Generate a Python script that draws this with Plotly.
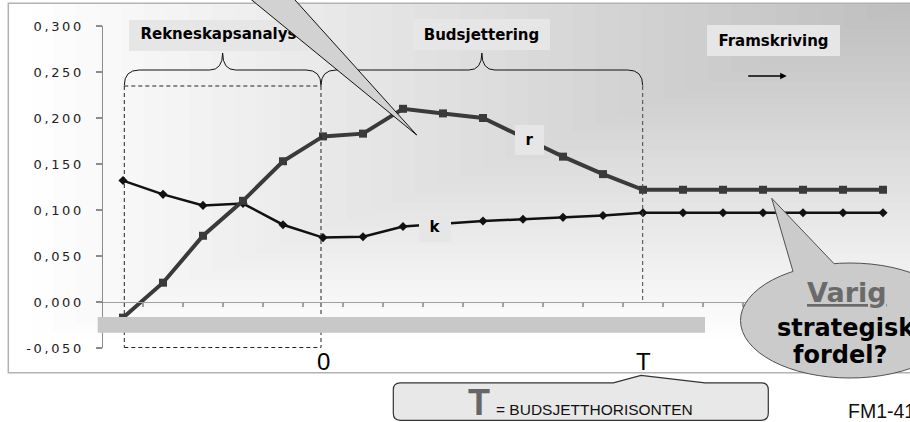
import math
import plotly.graph_objects as go

# ---------------- data ----------------
periods = list(range(20))
r_values = [-0.017, 0.021, 0.072, 0.110, 0.153, 0.180, 0.183, 0.210, 0.205, 0.200,
            0.179, 0.158, 0.139, 0.122, 0.122, 0.122, 0.122, 0.122, 0.122, 0.122]
k_values = [0.132, 0.117, 0.105, 0.107, 0.084, 0.070, 0.071, 0.082, 0.085, 0.088,
            0.090, 0.092, 0.094, 0.097, 0.097, 0.097, 0.097, 0.097, 0.097, 0.097]
y_tick_values = [-0.05, 0.0, 0.05, 0.10, 0.15, 0.20, 0.25, 0.30]
y_tick_labels = ["-0,050", "0,000", "0,050", "0,100", "0,150", "0,200", "0,250", "0,300"]
phase_labels = ["Rekneskapsanalyse", "Budsjettering", "Framskriving"]
mark_labels = ["0", "T"]
mark_periods = [5, 13]

# ---------------- geometry ----------------
W, H = 910, 422
ML, MR, MT, MB = 103, 7, 26, 74
PW, PH = W - ML - MR, H - MT - MB
YMIN, YMAX = -0.05, 0.30
XMIN, XMAX = -0.5, 19.5


def PX(x):
    return (x - ML) / PW


def PY(y):
    return (MT + PH - y) / PH


def DX(x):
    return XMIN + (x - ML) / PW * (XMAX - XMIN)


def DY(y):
    return YMAX - (y - MT) / PH * (YMAX - YMIN)


def path(points, close=True):
    s = ""
    for i, p in enumerate(points):
        if p[0] == "Q":
            s += " Q {:.5f},{:.5f} {:.5f},{:.5f}".format(PX(p[1]), PY(p[2]), PX(p[3]), PY(p[4]))
        else:
            s += ("M" if i == 0 else " L") + " {:.5f},{:.5f}".format(PX(p[0]), PY(p[1]))
    return s + (" Z" if close else "")


shapes = []

# gradient background (from top-right corner)
N = 40
for i in range(N):
    t_hi = 1 - i / N
    t_lo = 1 - (i + 1) / N
    tm = (t_hi + t_lo) / 2
    g = int(round(min(255, 190 + 66 * tm)))
    if g >= 255:
        continue
    x0 = max(8.5, 912 - t_hi * 904)
    y1 = 3.5 + t_hi * 345
    shapes.append(dict(type="rect", xref="paper", yref="paper", layer="below",
                       x0=PX(x0), x1=PX(920), y0=PY(3.5), y1=PY(y1),
                       fillcolor="rgb({0},{0},{0})".format(g), line=dict(width=0)))

# chart border
shapes.append(dict(type="rect", xref="paper", yref="paper", layer="below",
                   x0=PX(8.3), x1=PX(930), y0=PY(3.3), y1=PY(372.7),
                   fillcolor="rgba(0,0,0,0)", line=dict(color="#b2b2b2", width=1.5)))

# box behind "Rekneskapsanalyse" (under the wedge)
shapes.append(dict(type="rect", xref="paper", yref="paper", layer="below",
                   x0=PX(129), x1=PX(318), y0=PY(20), y1=PY(51),
                   fillcolor="#e6e6e6", line=dict(width=0)))


def brace(xa, xb):
    xm = (xa + xb) / 2
    return path([(xa, 85.5), ("Q", xa, 70, xa + 15, 70), (xm - 13, 70),
                 ("Q", xm, 70, xm, 53), ("Q", xm, 70, xm + 13, 70),
                 (xb - 15, 70), ("Q", xb, 70, xb, 85.5)], close=False)


for xa, xb in [(124.3, 321), (321, 642.7)]:
    shapes.append(dict(type="path", xref="paper", yref="paper", path=brace(xa, xb),
                       fillcolor="rgba(0,0,0,0)", line=dict(color="#111111", width=1)))

# dashed frames
dash_style = "4px,3px"
for (xa, ya, xb, yb) in [(124.3, 86, 321, 86), (124.3, 86, 124.3, 347.5),
                         (124.3, 347.5, 321, 347.5), (321, 86, 321, 347.5)]:
    shapes.append(dict(type="line", xref="paper", yref="paper",
                       x0=PX(xa), y0=PY(ya), x1=PX(xb), y1=PY(yb),
                       line=dict(color="#222222", width=1, dash=dash_style)))
shapes.append(dict(type="line", xref="paper", yref="paper",
                   x0=PX(642.7), y0=PY(86), x1=PX(642.7), y1=PY(301),
                   line=dict(color="#444444", width=1, dash=dash_style)))

# grey bar under axis
shapes.append(dict(type="rect", xref="paper", yref="paper",
                   x0=PX(97.7), x1=PX(705), y0=PY(317), y1=PY(332.7),
                   fillcolor="#c8c8c8", line=dict(width=0)))

# wedge of callout at top
shapes.append(dict(type="path", xref="paper", yref="paper",
                   path=path([(245.6, -5), (290.5, -5), (416.7, 135)]),
                   fillcolor="#d2d2d2", line=dict(color="#111111", width=1)))

# ellipse callout
cx, cy, rx, ry = 850.0, 320.5, 109.5, 57.5
shapes.append(dict(type="circle", xref="paper", yref="paper",
                   x0=PX(cx - rx), x1=PX(cx + rx), y0=PY(cy + ry), y1=PY(cy - ry),
                   fillcolor="#cbcbcb", line=dict(color="#505050", width=1)))
ax_ = 793.0
bx_ = 834.0
ay_ = cy - ry * math.sqrt(1 - ((ax_ - cx) / rx) ** 2)
by_ = cy - ry * math.sqrt(1 - ((bx_ - cx) / rx) ** 2)
tip = (771.7, 198.3)
shapes.append(dict(type="path", xref="paper", yref="paper",
                   path=path([tip, (ax_, ay_), (ax_ + 2, ay_ + 5), (bx_, by_ + 5), (bx_, by_)]),
                   fillcolor="#cbcbcb", line=dict(width=0)))
shapes.append(dict(type="path", xref="paper", yref="paper",
                   path=path([(ax_, ay_), tip, (bx_, by_)], close=False),
                   fillcolor="rgba(0,0,0,0)", line=dict(color="#505050", width=1)))

# T callout box
L_, R_, T_, B_, rr = 393.3, 768.3, 382.8, 420.3, 7
shapes.append(dict(type="path", xref="paper", yref="paper",
                   path=path([(L_ + rr, T_), (613.3, T_), (641, 375.3), (705, T_), (R_ - rr, T_),
                              ("Q", R_, T_, R_, T_ + rr), (R_, B_ - rr),
                              ("Q", R_, B_, R_ - rr, B_), (L_ + rr, B_),
                              ("Q", L_, B_, L_, B_ - rr), (L_, T_ + rr),
                              ("Q", L_, T_, L_ + rr, T_)]),
                   fillcolor="#e8e8e8", line=dict(color="#333333", width=1.2)))

# ---------------- traces ----------------
fig = go.Figure()
fig.add_trace(go.Scatter(x=periods, y=k_values, mode="lines+markers", name="k",
                         line=dict(color="#111111", width=2.5),
                         marker=dict(symbol="diamond", size=7, color="#111111"),
                         hoverinfo="skip", cliponaxis=False))
fig.add_trace(go.Scatter(x=periods, y=r_values, mode="lines+markers", name="r",
                         line=dict(color="#3a3a3a", width=4),
                         marker=dict(symbol="square", size=8, color="#3a3a3a"),
                         hoverinfo="skip", cliponaxis=False))
fig.add_trace(go.Scatter(x=[DX(223.5)], y=[DY(35.5)], mode="text",
                         text=["<b>" + phase_labels[0] + "</b>"],
                         textposition="middle center",
                         textfont=dict(family="DejaVu Sans", size=15, color="#000000"),
                         hoverinfo="skip", cliponaxis=False))

# ---------------- annotations ----------------
ann = []


def box_label(text, x, y, w, h):
    ann.append(dict(xref="paper", yref="paper", x=PX(x), y=PY(y), text="<b>" + text + "</b>",
                    showarrow=False, xanchor="center", yanchor="middle",
                    width=w, height=h, bgcolor="#e6e6e6", borderpad=0, borderwidth=0,
                    font=dict(family="DejaVu Sans", size=15, color="#000000")))


box_label(phase_labels[1], 481.7, 34.5, 137, 31)
box_label(phase_labels[2], 773.3, 40.5, 133, 31)
box_label("r", 529.5, 140.3, 29, 30)
box_label("k", 435, 226.7, 32, 30)

ann.append(dict(xref="paper", yref="paper", x=PX(786.7), y=PY(76), ax=-40, ay=0,
                text="", showarrow=True, arrowhead=2, arrowsize=1, arrowwidth=1.3,
                arrowcolor="#000000"))

for lab, p in zip(mark_labels, mark_periods):
    ann.append(dict(xref="x", yref="paper", x=p, y=PY(361), text=lab, showarrow=False,
                    xanchor="center", yanchor="middle",
                    font=dict(family="Liberation Sans", size=24, color="#000000")))

ann.append(dict(xref="paper", yref="paper", x=PX(479), y=PY(402), text="<b>T</b>",
                showarrow=False, xanchor="center", yanchor="middle",
                font=dict(family="Liberation Sans", size=36, color="#666666")))
ann.append(dict(xref="paper", yref="paper", x=PX(494), y=PY(409), text="= BUDSJETTHORISONTEN",
                showarrow=False, xanchor="left", yanchor="middle",
                font=dict(family="Liberation Sans", size=15.5, color="#111111")))
ann.append(dict(xref="paper", yref="paper", x=PX(846), y=PY(411), text="FM1-41",
                showarrow=False, xanchor="left", yanchor="middle",
                font=dict(family="Liberation Sans", size=19.5, color="#111111")))

ann.append(dict(xref="paper", yref="paper", x=PX(847), y=PY(292), text="<b><u>Varig</u></b>",
                showarrow=False, xanchor="center", yanchor="middle",
                font=dict(family="DejaVu Sans", size=27, color="#6a6a6a")))
ann.append(dict(xref="paper", yref="paper", x=PX(846), y=PY(328), text="<b>strategisk</b>",
                showarrow=False, xanchor="center", yanchor="middle",
                font=dict(family="DejaVu Sans", size=24, color="#000000")))
ann.append(dict(xref="paper", yref="paper", x=PX(840), y=PY(355), text="<b>fordel?</b>",
                showarrow=False, xanchor="center", yanchor="middle",
                font=dict(family="DejaVu Sans", size=24, color="#000000")))

spaced_labels = ["\u2009".join(list(s)) for s in y_tick_labels]

fig.update_layout(
    width=W, height=H,
    margin=dict(l=ML, r=MR, t=MT, b=MB, pad=0),
    paper_bgcolor="#ffffff", plot_bgcolor="rgba(0,0,0,0)",
    showlegend=False,
    shapes=shapes, annotations=ann,
    xaxis=dict(range=[XMIN, XMAX], anchor="free", position=(0 - YMIN) / (YMAX - YMIN),
               showline=True, linecolor="#a0a0a0", linewidth=1.2,
               tickvals=[p + 0.5 for p in periods[:-1]], ticks="outside", ticklen=4,
               tickcolor="#a0a0a0", tickwidth=1.2, showticklabels=False,
               showgrid=False, zeroline=False, fixedrange=True),
    yaxis=dict(range=[YMIN, YMAX], tickvals=y_tick_values, ticktext=spaced_labels,
               ticks="outside", ticklen=6, tickcolor="#8c8c8c", tickwidth=1.2,
               showline=True, linecolor="#8c8c8c", linewidth=1.2,
               showgrid=False, zeroline=False, ticklabelstandoff=12,
               tickfont=dict(family="DejaVu Sans", size=13, color="#222222"),
               fixedrange=True),
    hovermode=False,
)

fig.write_html("out.html", config={"displayModeBar": False, "staticPlot": True},
               post_script="document.body.style.margin='0';document.body.style.overflow='hidden';")
